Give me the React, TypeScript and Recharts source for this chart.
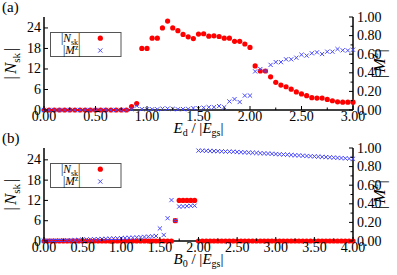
import React from "react";
import { ScatterChart, Scatter, XAxis, YAxis, Legend } from "recharts";

const serif = "'Liberation Serif', 'Times New Roman', serif";
const RED = "#ff0000";
const BLUE = "#4848ff";

// panel (a): x = E_d / |E_gs|
const edValues = [
  0, 0.05, 0.1, 0.15, 0.2, 0.25, 0.3, 0.35, 0.4, 0.45, 0.5, 0.55, 0.6, 0.65, 0.7, 0.75, 0.8,
  0.85, 0.9, 0.95, 1, 1.05, 1.1, 1.15, 1.2, 1.25, 1.3, 1.35, 1.4, 1.45, 1.5, 1.55, 1.6, 1.65,
  1.7, 1.75, 1.8, 1.85, 1.9, 1.95, 2, 2.05, 2.1, 2.15, 2.2, 2.25, 2.3, 2.35, 2.4, 2.45, 2.5,
  2.55, 2.6, 2.65, 2.7, 2.75, 2.8, 2.85, 2.9, 2.95, 3,
];
const nskA = [
  0, 0, 0, 0, 0, 0, 0, 0, 0, 0, 0, 0, 0, 0, 0, 0, 0,
  1.0, 1.9, 18, 18, 21, 21, 24, 26, 24, 23.2, 22.1, 21.4, 20.9, 22.2, 22.3, 21.6, 21.7,
  21.5, 21, 21, 20.1, 20.1, 19.3, 18.3, 12.9, 11.4, 11.4, 9.7, 8.1, 7.3, 6.8, 6.1, 5.3, 4.7,
  4.2, 3.6, 3.5, 3.5, 3.1, 2.7, 2.4, 2.3, 2.3, 2.3,
];
const mzA = [
  0, 0, 0, 0, 0, 0, 0, 0, 0, 0, 0, 0, 0, 0, 0, 0, 0,
  0.01, 0.045, 0.01, 0.008, 0.008, 0.008, 0.015, 0.015, 0.012, 0.008, 0.01, 0.01, 0.02, 0.018,
  0.025, 0.03, 0.03, 0.042, 0.03, 0.092, 0.117, 0.086, 0.155, 0.155, 0.415, 0.44, 0.42, 0.485,
  0.515, 0.515, 0.545, 0.545, 0.562, 0.594, 0.585, 0.61, 0.62, 0.602, 0.627, 0.627, 0.655,
  0.642, 0.64, 0.648,
];

// panel (b): x = B_0 / |E_gs|
const b0Values = [
  0, 0.05, 0.1, 0.15, 0.2, 0.25, 0.3, 0.35, 0.4, 0.45, 0.5, 0.55, 0.6, 0.65, 0.7, 0.75, 0.8,
  0.85, 0.9, 0.95, 1, 1.05, 1.1, 1.15, 1.2, 1.25, 1.3, 1.35, 1.4, 1.45, 1.5, 1.55, 1.6, 1.65,
  1.7, 1.75, 1.8, 1.85, 1.9, 1.95, 2, 2.05, 2.1, 2.15, 2.2, 2.25, 2.3, 2.35, 2.4, 2.45, 2.5,
  2.55, 2.6, 2.65, 2.7, 2.75, 2.8, 2.85, 2.9, 2.95, 3, 3.05, 3.1, 3.15, 3.2, 3.25, 3.3, 3.35,
  3.4, 3.45, 3.5, 3.55, 3.6, 3.65, 3.7, 3.75, 3.8, 3.85, 3.9, 3.95, 4,
];
const nskB = [
  0, 0, 0, 0, 0, 0, 0, 0, 0, 0, 0, 0, 0, 0, 0, 0, 0, 0, 0, 0, 0, 0, 0, 0, 0, 0, 0, 0, 0, 0,
  0, 0, 0, 0, 6, 12, 12, 12, 12, 12,
  0, 0, 0, 0, 0, 0, 0, 0, 0, 0, 0, 0, 0, 0, 0, 0, 0, 0, 0, 0, 0, 0, 0, 0, 0, 0, 0, 0, 0, 0,
  0, 0, 0, 0, 0, 0, 0, 0, 0, 0, 0,
];
const mzB = [
  0.004, 0.004, 0.005, 0.005, 0.006, 0.007, 0.008, 0.009, 0.01, 0.012,
  0.014, 0.016, 0.017, 0.019, 0.02, 0.022, 0.023, 0.025, 0.027, 0.028, 0.03,
  0.032, 0.034, 0.036, 0.038, 0.041, 0.044, 0.047, 0.05, 0.054,
  0.135, 0.065, 0.245, 0.44, 0.22, 0.37, 0.372, 0.375, 0.378, 0.38,
  0.972, 0.971, 0.97, 0.968, 0.967, 0.966, 0.964, 0.962, 0.961, 0.96, 0.957, 0.955, 0.953,
  0.951, 0.949, 0.947, 0.944, 0.942, 0.94, 0.938, 0.935, 0.933, 0.93, 0.928, 0.925, 0.922,
  0.92, 0.917, 0.914, 0.912, 0.91, 0.907, 0.905, 0.902, 0.9, 0.897, 0.894, 0.892, 0.889,
  0.886, 0.884,
];

const xTicksA = [0, 0.25, 0.5, 0.75, 1, 1.25, 1.5, 1.75, 2, 2.25, 2.5, 2.75, 3];
const xTicksB = [0, 0.25, 0.5, 0.75, 1, 1.25, 1.5, 1.75, 2, 2.25, 2.5, 2.75, 3, 3.25, 3.5, 3.75, 4];
const nskTicks = [0, 6, 12, 18, 24];
const mzTicks = [0, 0.1, 0.2, 0.3, 0.4, 0.5, 0.6, 0.7, 0.8, 0.9, 1];

const isMultiple = (v: number, step: number) => Math.abs(v / step - Math.round(v / step)) < 1e-6;

const BottomTick = ({ x, y, payload }: any) => {
  const major = isMultiple(payload.value, 0.5);
  return (
    <g>
      <line x1={x} x2={x} y1={y} y2={y - (major ? 4 : 2.5)} stroke="#000" />
      {major && (
        <text x={x} y={y + 11} textAnchor="middle" fontFamily={serif} fontSize={14} fill="#000">
          {payload.value.toFixed(2)}
        </text>
      )}
    </g>
  );
};

const TopTick = ({ x, y, payload }: any) => {
  const major = isMultiple(payload.value, 0.5);
  return <line x1={x} x2={x} y1={y} y2={y + (major ? 4 : 2.5)} stroke="#000" />;
};

const LeftTick = ({ x, y, payload }: any) => (
  <g>
    <line x1={x} x2={x + 4} y1={y} y2={y} stroke="#000" />
    <text x={x - 3} y={y + 4.5} textAnchor="end" fontFamily={serif} fontSize={14} fill="#000">
      {payload.value}
    </text>
  </g>
);

const RightTick = ({ x, y, payload }: any) => {
  const major = isMultiple(payload.value, 0.2);
  return (
    <g>
      <line x1={x} x2={x - (major ? 4 : 2.5)} y1={y} y2={y} stroke="#000" />
      {major && (
        <text x={x + 4} y={y + 4.5} textAnchor="start" fontFamily={serif} fontSize={14} fill="#000">
          {payload.value.toFixed(2)}
        </text>
      )}
    </g>
  );
};

const XTitle = ({ viewBox, sym, sub }: any) => (
  <text
    x={viewBox.x + viewBox.width / 2}
    y={viewBox.y + 23}
    textAnchor="middle"
    fontFamily={serif}
    fontSize={15}
    fill="#000"
  >
    <tspan fontStyle="italic">{sym}</tspan>
    <tspan fontSize={10} dy={3}>{sub}</tspan>
    <tspan dy={-3}>{" / |"}</tspan>
    <tspan fontStyle="italic">E</tspan>
    <tspan fontSize={10} dy={3}>gs</tspan>
    <tspan dy={-3}>|</tspan>
  </text>
);

const NskTitle = ({ viewBox }: any) => {
  const cx = viewBox.x + 16;
  const cy = viewBox.y + viewBox.height / 2;
  return (
    <text x={cx} y={cy} transform={`rotate(-90, ${cx}, ${cy})`} textAnchor="middle" fontFamily={serif} fontSize={17} fill="#000">
      <tspan>|</tspan>
      <tspan fontStyle="italic" dx={2}>N</tspan>
      <tspan fontSize={11} dy={4}>sk</tspan>
      <tspan dy={-4} dx={2}>|</tspan>
    </text>
  );
};

const MzTitle = ({ viewBox }: any) => {
  const cx = viewBox.x + 32;
  const cy = viewBox.y + viewBox.height / 2;
  return (
    <text x={cx} y={cy} transform={`rotate(-90, ${cx}, ${cy})`} textAnchor="middle" fontFamily={serif} fontSize={17} fill="#000">
      <tspan>|</tspan>
      <tspan fontStyle="italic" dx={2}>M</tspan>
      <tspan fontSize={11} dy={-7}>z</tspan>
      <tspan dy={7} dx={1}>|</tspan>
    </text>
  );
};

const RedDot = (p: any) => <circle cx={p.cx} cy={p.cy} r={2.6} fill={RED} />;

const BlueCross = (p: any) => {
  const { cx, cy } = p;
  const h = 2.1;
  return (
    <path
      d={`M${cx - h},${cy - h}L${cx + h},${cy + h}M${cx - h},${cy + h}L${cx + h},${cy - h}`}
      stroke={BLUE}
      strokeWidth={1}
      fill="none"
    />
  );
};

const LegendBox = () => (
  <svg width={72} height={26} style={{ display: "block", overflow: "visible" }}>
    <rect x={0.5} y={0.5} width={70.5} height={24} fill="#fff" stroke="#555" strokeWidth={1} />
    <text x={11} y={10} fontFamily={serif} fontSize={11.5} fill="#000">
      <tspan>|</tspan>
      <tspan fontStyle="italic">N</tspan>
      <tspan fontSize={8} dy={2.5}>sk</tspan>
      <tspan dy={-2.5}>|</tspan>
    </text>
    <text x={13} y={22} fontFamily={serif} fontSize={11.5} fill="#000">
      <tspan>|</tspan>
      <tspan fontStyle="italic">M</tspan>
      <tspan fontSize={7.5} dy={-4}>z</tspan>
      <tspan dy={4}>|</tspan>
    </text>
    <RedDot cx={50.3} cy={6.2} />
    <BlueCross cx={50.3} cy={18.5} />
  </svg>
);

interface PanelProps {
  xs: number[];
  nsk: number[];
  mz: number[];
  xMax: number;
  xTicks: number[];
  nskMax: number;
  sym: string;
  sub: string;
}

function Panel({ xs, nsk, mz, xMax, xTicks, nskMax, sym, sub }: PanelProps) {
  const nskData = xs.map((x, i) => ({ x, y: nsk[i] }));
  const mzData = xs.map((x, i) => ({ x, y: mz[i] }));
  const axisLine = { stroke: "#000", strokeWidth: 1.5 };
  return (
    <ScatterChart width={397} height={140} margin={{ top: 17, right: 0, bottom: 0, left: 0 }}>
      <XAxis
        xAxisId="bottom"
        dataKey="x"
        type="number"
        domain={[0, xMax]}
        ticks={xTicks}
        interval={0}
        height={30}
        tickSize={0}
        tickMargin={0}
        tickLine={false}
        axisLine={axisLine}
        tick={<BottomTick />}
        label={<XTitle sym={sym} sub={sub} />}
      />
      <XAxis
        xAxisId="top"
        orientation="top"
        dataKey="x"
        type="number"
        domain={[0, xMax]}
        ticks={xTicks}
        interval={0}
        height={0}
        tickSize={0}
        tickMargin={0}
        tickLine={false}
        axisLine={axisLine}
        tick={<TopTick />}
      />
      <YAxis
        yAxisId="left"
        dataKey="y"
        type="number"
        domain={[0, nskMax]}
        ticks={nskTicks}
        interval={0}
        width={44}
        tickSize={0}
        tickMargin={0}
        tickLine={false}
        axisLine={axisLine}
        tick={<LeftTick />}
        label={<NskTitle />}
      />
      <YAxis
        yAxisId="right"
        orientation="right"
        dataKey="y"
        type="number"
        domain={[0, 1]}
        ticks={mzTicks}
        interval={0}
        width={44}
        tickSize={0}
        tickMargin={0}
        tickLine={false}
        axisLine={axisLine}
        tick={<RightTick />}
        label={<MzTitle />}
      />
      <Legend
        layout="vertical"
        align="center"
        verticalAlign="middle"
        content={() => <LegendBox />}
        wrapperStyle={{ left: 50, top: 31.5, width: 72, height: 26 }}
      />
      <Scatter
        name="Nsk"
        data={nskData}
        dataKey="y"
        xAxisId="bottom"
        yAxisId="left"
        shape={RedDot}
        isAnimationActive={false}
      />
      <Scatter
        name="Mz"
        data={mzData}
        dataKey="y"
        xAxisId="bottom"
        yAxisId="right"
        shape={BlueCross}
        isAnimationActive={false}
      />
    </ScatterChart>
  );
}

export default function App() {
  return (
    <div style={{ position: "absolute", left: 0, top: 0, width: 397, height: 275, background: "#fff", fontFamily: serif }}>
      <div style={{ position: "absolute", left: 0, top: 0 }}>
        <Panel xs={edValues} nsk={nskA} mz={mzA} xMax={3} xTicks={xTicksA} nskMax={27.2} sym="E" sub="d" />
      </div>
      <div style={{ position: "absolute", left: 0, top: 131 }}>
        <Panel xs={b0Values} nsk={nskB} mz={mzB} xMax={4} xTicks={xTicksB} nskMax={27.5} sym="B" sub="0" />
      </div>
      <div style={{ position: "absolute", left: 2, top: 0, fontSize: 15, lineHeight: "15px" }}>(a)</div>
      <div style={{ position: "absolute", left: 2, top: 131, fontSize: 15, lineHeight: "15px" }}>(b)</div>
    </div>
  );
}
